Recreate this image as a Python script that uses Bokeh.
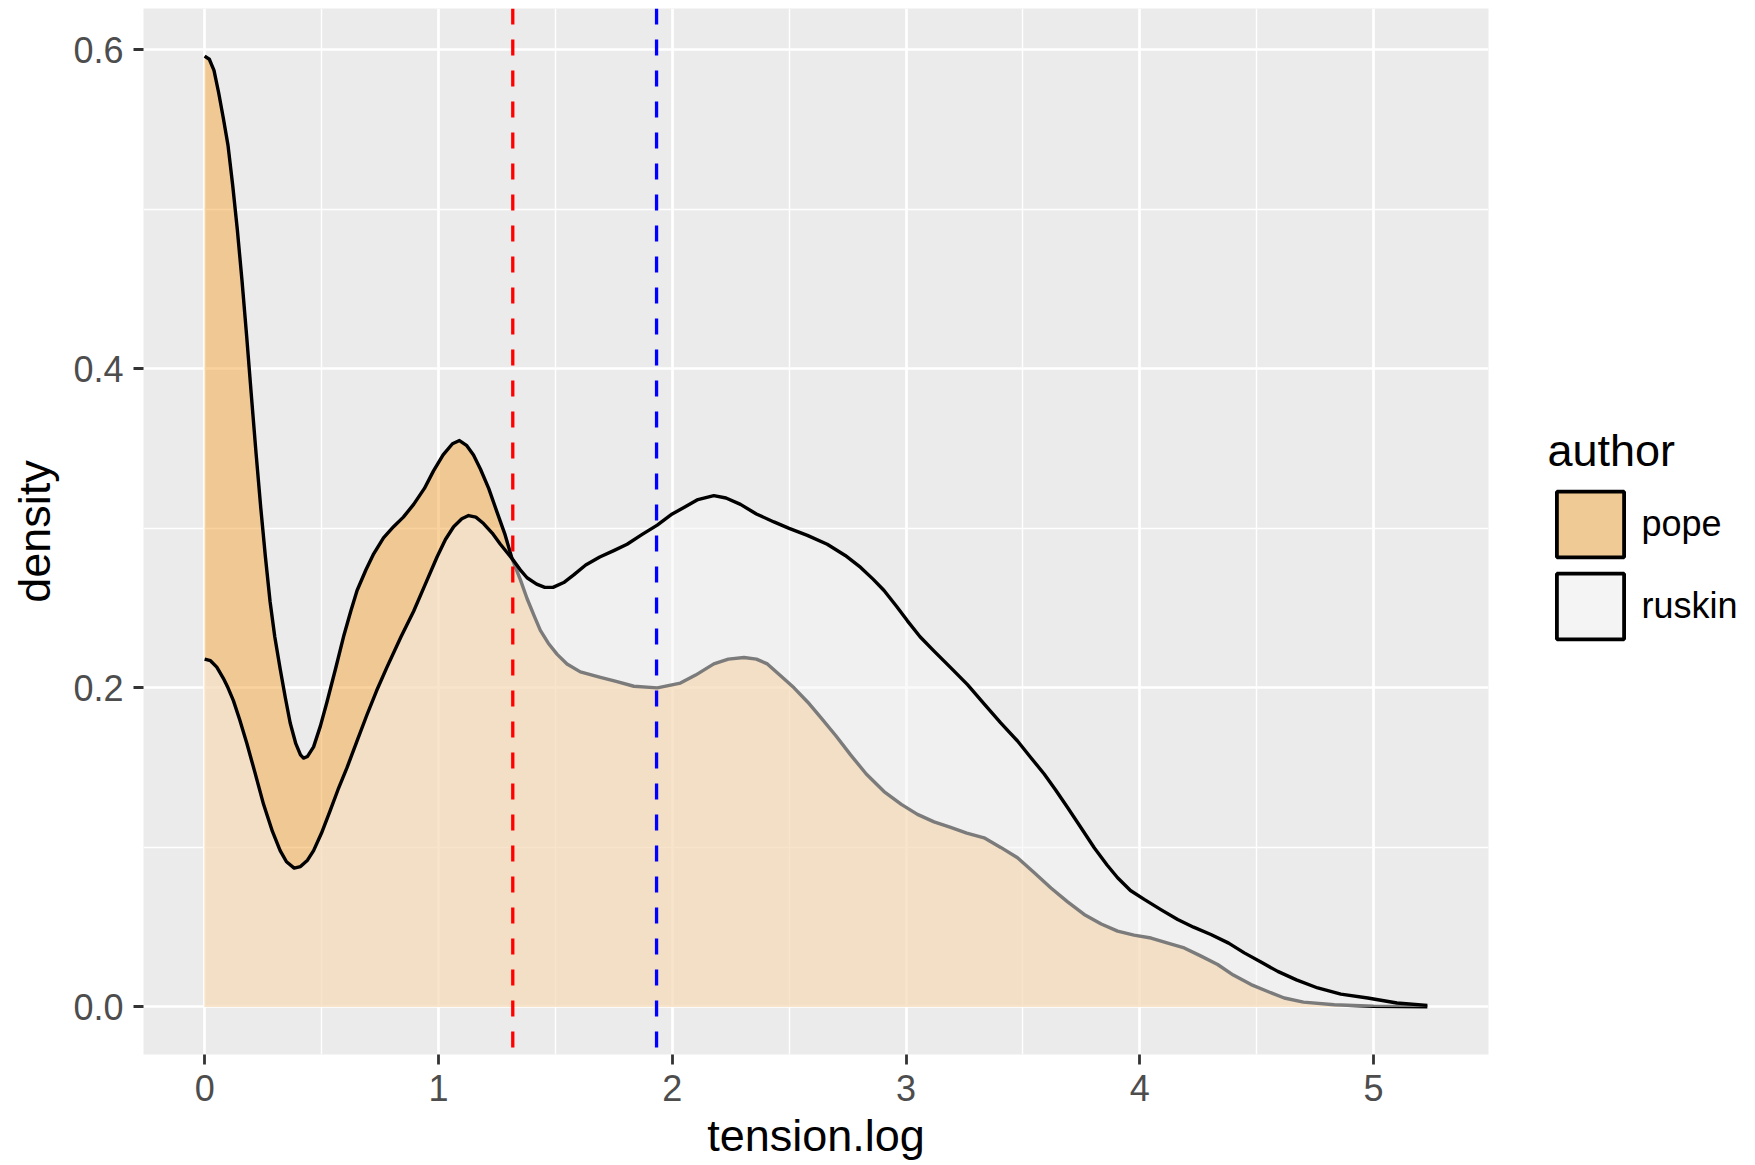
from bokeh.plotting import figure
from bokeh.models import (Range1d, FixedTicker, Span, Legend, LegendItem,
                          ColumnDataSource, PrintfTickFormatter)
from bokeh.embed import file_html
from bokeh.resources import INLINE

# ---- data ----
authors = ["pope", "ruskin"]

pope_x = [0.000, 0.020, 0.040, 0.060, 0.080, 0.100, 0.120, 0.140, 0.160, 0.180,
          0.200, 0.220, 0.240, 0.260, 0.280, 0.300, 0.323, 0.345, 0.366, 0.390,
          0.410, 0.423, 0.440, 0.466, 0.495, 0.523, 0.560, 0.594, 0.625, 0.652,
          0.690, 0.723, 0.765, 0.808, 0.850, 0.894, 0.940, 0.979, 1.020, 1.060,
          1.090, 1.120, 1.150, 1.180, 1.215, 1.251, 1.285, 1.315, 1.350, 1.379,
          1.410, 1.436, 1.470, 1.508, 1.550, 1.607, 1.693, 1.760, 1.836, 1.936,
          2.035, 2.100, 2.178, 2.240, 2.307, 2.360, 2.407, 2.460, 2.521, 2.580,
          2.635, 2.700, 2.763, 2.830, 2.906, 2.980, 3.049, 3.120, 3.191, 3.260,
          3.334, 3.405, 3.477, 3.550, 3.620, 3.690, 3.762, 3.835, 3.905, 3.975,
          4.048, 4.120, 4.190, 4.260, 4.333, 4.400, 4.476, 4.550, 4.618, 4.700,
          4.832, 5.000, 5.230]
pope_y = [0.596, 0.594, 0.587, 0.573, 0.557, 0.540, 0.515, 0.487, 0.455, 0.420,
          0.383, 0.347, 0.313, 0.282, 0.254, 0.232, 0.212, 0.194, 0.178, 0.165,
          0.158, 0.156, 0.157, 0.163, 0.176, 0.191, 0.212, 0.232, 0.248, 0.261,
          0.274, 0.284, 0.294, 0.301, 0.307, 0.315, 0.325, 0.336, 0.346, 0.353,
          0.355, 0.352, 0.346, 0.337, 0.325, 0.310, 0.296, 0.281, 0.268, 0.256,
          0.245, 0.236, 0.228, 0.221, 0.215, 0.210, 0.2065, 0.204, 0.201, 0.200,
          0.203, 0.208, 0.215, 0.218, 0.219, 0.218, 0.215, 0.208, 0.200, 0.191,
          0.1815, 0.170, 0.158, 0.146, 0.135, 0.127, 0.1207, 0.116, 0.1125, 0.109,
          0.106, 0.100, 0.0935, 0.084, 0.0746, 0.066, 0.058, 0.052, 0.0475, 0.045,
          0.0432, 0.040, 0.037, 0.032, 0.0266, 0.020, 0.014, 0.0095, 0.0056, 0.003,
          0.0014, 0.0004, 0.0001]

ruskin_x = [0.000, 0.025, 0.052, 0.080, 0.100, 0.123, 0.150, 0.181, 0.215, 0.252,
            0.290, 0.323, 0.350, 0.383, 0.410, 0.440, 0.466, 0.500, 0.537, 0.570,
            0.609, 0.650, 0.694, 0.735, 0.780, 0.840, 0.894, 0.944, 0.994, 1.030,
            1.065, 1.100, 1.129, 1.160, 1.193, 1.230, 1.265, 1.315, 1.350, 1.379,
            1.420, 1.455, 1.490, 1.536, 1.580, 1.630, 1.690, 1.750, 1.807, 1.870,
            1.936, 2.000, 2.050, 2.110, 2.178, 2.230, 2.292, 2.360, 2.435, 2.500,
            2.578, 2.663, 2.740, 2.806, 2.860, 2.906, 2.960, 3.006, 3.060, 3.120,
            3.192, 3.263, 3.334, 3.405, 3.477, 3.530, 3.591, 3.640, 3.691, 3.750,
            3.805, 3.860, 3.905, 3.960, 4.019, 4.090, 4.162, 4.230, 4.304, 4.380,
            4.447, 4.520, 4.590, 4.670, 4.761, 4.860, 4.975, 5.100, 5.230]
ruskin_y = [0.218, 0.217, 0.213, 0.206, 0.200, 0.192, 0.180, 0.165, 0.147, 0.127,
            0.110, 0.098, 0.091, 0.087, 0.088, 0.092, 0.098, 0.109, 0.123, 0.136,
            0.150, 0.166, 0.183, 0.198, 0.213, 0.232, 0.248, 0.265, 0.282, 0.293,
            0.301, 0.306, 0.308, 0.307, 0.303, 0.297, 0.290, 0.281, 0.274, 0.269,
            0.265, 0.263, 0.263, 0.266, 0.271, 0.277, 0.282, 0.286, 0.290, 0.296,
            0.302, 0.309, 0.313, 0.318, 0.3205, 0.319, 0.315, 0.309, 0.304, 0.300,
            0.2956, 0.290, 0.283, 0.2755, 0.268, 0.261, 0.251, 0.242, 0.232, 0.223,
            0.2125, 0.202, 0.190, 0.178, 0.1667, 0.157, 0.146, 0.136, 0.125, 0.112,
            0.0998, 0.089, 0.081, 0.073, 0.0674, 0.061, 0.0548, 0.050, 0.0454, 0.040,
            0.0339, 0.028, 0.0223, 0.017, 0.0119, 0.008, 0.0056, 0.0025, 0.001]

mean_lines = [1.318, 1.933]
x_ticks = [0, 1, 2, 3, 4, 5]
x_minor = [0.5, 1.5, 2.5, 3.5, 4.5]
y_ticks = [0.0, 0.2, 0.4, 0.6]
y_minor = [0.1, 0.3, 0.5]

FONT = "Liberation Sans"
X0, X1 = -0.2615, 5.4915
Y0, Y1 = -0.0298, 0.6258

p = figure(frame_width=1345, frame_height=1046,
           x_range=Range1d(X0, X1), y_range=Range1d(Y0, Y1),
           output_backend="svg", toolbar_location=None,
           min_border_left=143, min_border_right=251, min_border_top=8,
           min_border_bottom=95,
           background_fill_color="#EBEBEB", border_fill_color="white",
           outline_line_color=None)

for g in (p.xgrid, p.ygrid):
    g.grid_line_color = "white"
    g.grid_line_width = 2.7
    g.minor_grid_line_color = "white"
    g.minor_grid_line_width = 1.4
p.xaxis.ticker = FixedTicker(ticks=x_ticks, minor_ticks=x_minor)
p.yaxis.ticker = FixedTicker(ticks=y_ticks, minor_ticks=y_minor)
p.xaxis.formatter = PrintfTickFormatter(format="%d")
p.yaxis.formatter = PrintfTickFormatter(format="%.1f")

for ax in (p.xaxis, p.yaxis):
    ax.axis_line_color = None
    ax.major_tick_line_color = "#333333"
    ax.major_tick_line_width = 2.8
    ax.major_tick_out = 10
    ax.major_tick_in = 0
    ax.minor_tick_line_color = None
    ax.major_label_text_font = FONT
    ax.major_label_text_font_size = "36px"
    ax.major_label_text_color = "#4D4D4D"
    ax.axis_label_text_font = FONT
    ax.axis_label_text_font_size = "45px"
    ax.axis_label_text_font_style = "normal"
    ax.axis_label_text_color = "black"

p.xaxis.axis_label = "tension.log"
p.yaxis.axis_label = "density"
p.xaxis.major_label_standoff = 10
p.xaxis.axis_label_standoff = 6
p.yaxis.major_label_standoff = 10
p.yaxis.axis_label_standoff = 10

p.varea(x=pope_x, y1=0, y2=pope_y, fill_color=(243, 165, 61), fill_alpha=0.5)
p.line(pope_x, pope_y, line_color="black", line_width=3.4, line_join="round")
p.varea(x=ruskin_x, y1=0, y2=ruskin_y, fill_color="#F5F5F5", fill_alpha=0.5)
p.line(ruskin_x, ruskin_y, line_color="black", line_width=3.4, line_join="round")

for loc, col in zip(mean_lines, ["red", "blue"]):
    p.add_layout(Span(location=loc, dimension="height", line_color=col,
                      line_width=3.3, line_dash="16 15"))

# legend keys: dummy quads placed outside the visible ranges
hidden = ColumnDataSource(dict(l=[-9.0], r=[-8.9], t=[-9.0], b=[-9.1]))
key_p = p.quad(left="l", right="r", top="t", bottom="b", source=hidden,
               fill_color="#F0CA95", line_color="black", line_width=3.8)
key_r = p.quad(left="l", right="r", top="t", bottom="b", source=hidden,
               fill_color="#F4F4F4", line_color="black", line_width=3.8)

legend = Legend(items=[LegendItem(label=authors[0], renderers=[key_p]),
                       LegendItem(label=authors[1], renderers=[key_r])],
                title="author", location=(59.5, 407), orientation="vertical",
                glyph_width=84, glyph_height=82, spacing=0, label_standoff=10,
                padding=0, margin=0, border_line_color=None,
                background_fill_alpha=0,
                title_text_font=FONT, title_text_font_size="45px",
                title_text_font_style="normal", title_text_color="black",
                title_standoff=6,
                label_text_font=FONT, label_text_font_size="36px",
                label_text_color="black")
p.add_layout(legend, "right")

open("out.html", "w").write(file_html(p, INLINE))
